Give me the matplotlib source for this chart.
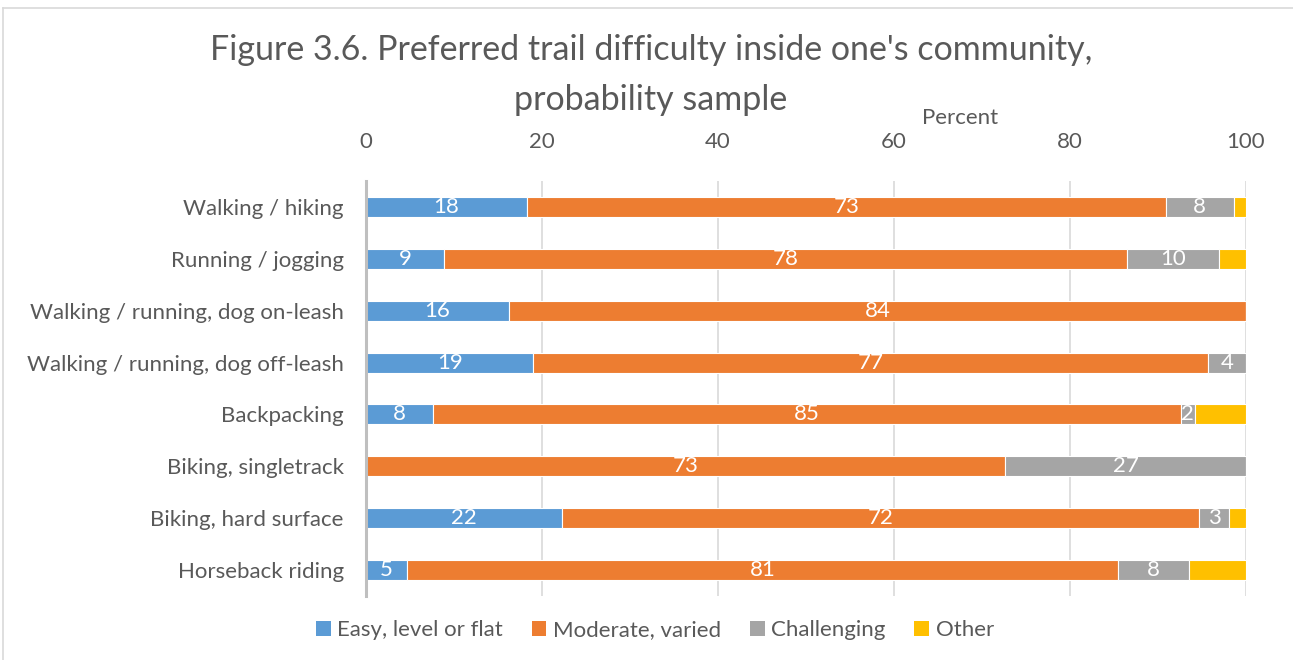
import matplotlib.pyplot as plt
from matplotlib.lines import Line2D
from matplotlib.patches import Patch

plt.rcParams['font.family'] = ['Lato', 'DejaVu Sans']

categories = ["Walking / hiking", "Running / jogging", "Walking / running, dog on-leash",
              "Walking / running, dog off-leash", "Backpacking", "Biking, singletrack",
              "Biking, hard surface", "Horseback riding"]
easy = [18.3, 8.9, 16.25, 19.0, 7.6, 0, 22.3, 4.7]
moderate = [72.6, 77.6, 83.75, 76.7, 85.0, 72.6, 72.4, 80.7]
challenging = [7.7, 10.4, 0, 4.3, 1.6, 27.4, 3.4, 8.1]
other = [1.4, 3.1, 0, 0, 5.8, 0, 1.9, 6.5]

series = ["Easy, level or flat", "Moderate, varied", "Challenging", "Other"]
colors = ["#5B9BD5", "#ED7D31", "#A5A5A5", "#FFC000"]
text_col = "#595959"

fig = plt.figure(figsize=(12.93, 6.6), dpi=100)
ax = fig.add_axes([366/1293, 1-596/660, 880/1293, 415/660])

y = list(range(len(categories)))
left = [0]*len(categories)
for i, vals in enumerate([easy, moderate, challenging, other]):
    bars = ax.barh(y, vals, left=left, height=0.385, color=colors[i],
                   edgecolor="white", linewidth=0.8, zorder=3)
    if i < 3:
        labels = [str(round(v)) if v > 0 else "" for v in vals]
        ax.bar_label(bars, labels=labels, label_type="center", color="white",
                     fontsize=16)
    left = [a + b for a, b in zip(left, vals)]

ax.set_xlim(0, 100)
ax.set_ylim(len(categories) - 0.5, -0.5)
ax.set_xticks(range(0, 101, 20))
ax.xaxis.tick_top()
ax.tick_params(axis="x", length=0, pad=21, labelsize=16, labelcolor=text_col)
ax.tick_params(axis="y", length=0, pad=16, labelsize=16, labelcolor=text_col)
ax.set_yticks(y)
ax.set_yticklabels(categories)
ax.grid(axis="x", color="#D9D9D9", linewidth=1.2, zorder=0)
for s in ["top", "right", "bottom"]:
    ax.spines[s].set_visible(False)
ax.spines["left"].set_color("#BFBFBF")
ax.spines["left"].set_linewidth(2.2)
ax.spines["left"].set_zorder(4)

fig.text(651/1293, 1-50/660, "Figure 3.6. Preferred trail difficulty inside one's community,",
         ha="center", va="center", fontsize=24.5, color=text_col)
fig.text(651/1293, 1-100/660, "probability sample",
         ha="center", va="center", fontsize=24.5, color=text_col)
fig.text(960/1293, 1-118/660, "Percent", ha="center", va="center", fontsize=16, color=text_col)

handles = [Patch(facecolor=c) for c in colors]
fig.legend(handles, series, loc="center", bbox_to_anchor=(655/1293, 1-630/660), ncol=4,
           frameon=False, fontsize=16, labelcolor=text_col, handlelength=0.65, handleheight=0.65,
           handletextpad=0.3, columnspacing=1.3)

fig.add_artist(Line2D([3/1293, 1], [1-8/660, 1-8/660], color="#D9D9D9", linewidth=1.2,
                      transform=fig.transFigure))
fig.add_artist(Line2D([3/1293, 3/1293], [0, 1-8/660], color="#D9D9D9", linewidth=1.2,
                      transform=fig.transFigure))

fig.savefig("out.png", dpi=100, facecolor="white")
